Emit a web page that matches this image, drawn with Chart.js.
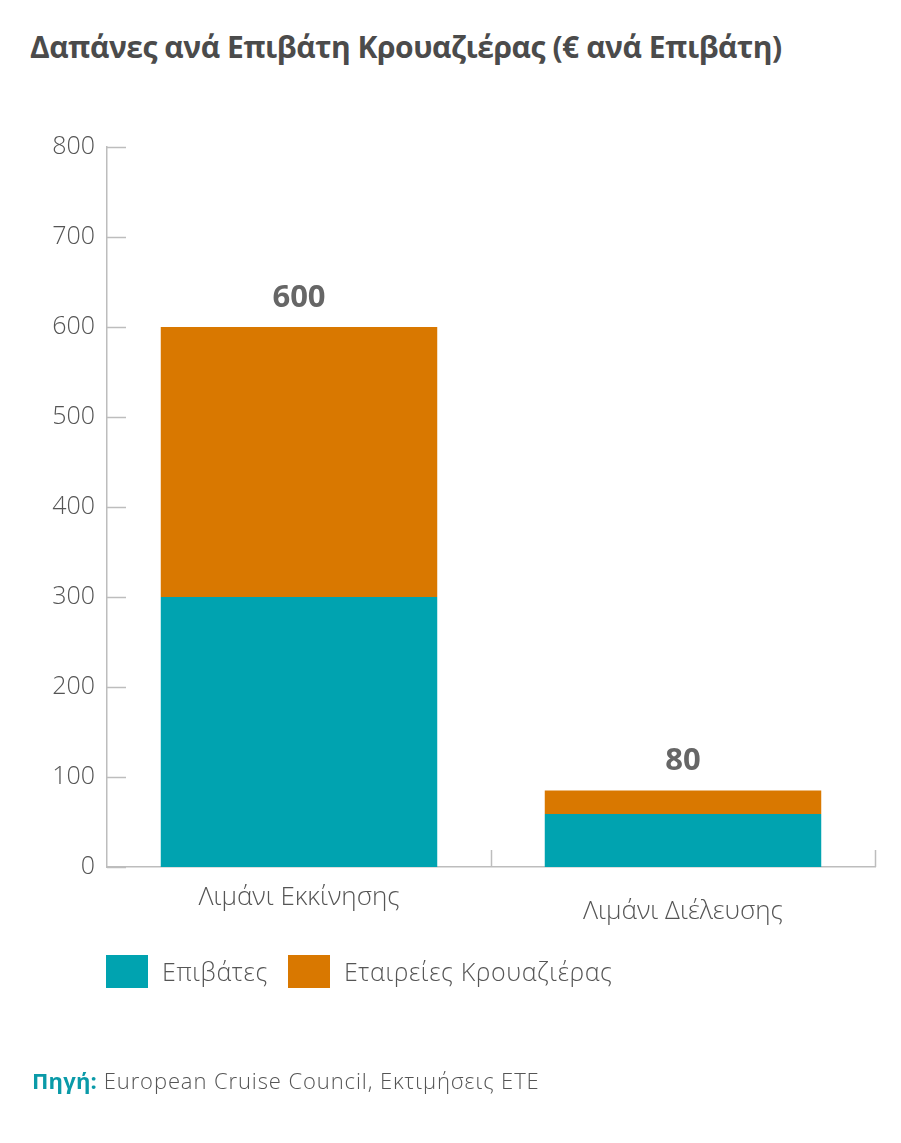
<!DOCTYPE html>
<html>
<head>
<meta charset="utf-8">
<script src="https://cdn.jsdelivr.net/npm/chart.js@4.4.0/dist/chart.umd.min.js"></script>
<style>
  html, body { margin:0; padding:0; background:#fff; }
  body { width:901px; height:1143px; position:relative; overflow:hidden; font-family:"Open Sans", "Noto Sans", sans-serif; }
  #title { position:absolute; left:30px; top:26px; font-size:30px; font-weight:700; color:#4b4b4b; white-space:nowrap; letter-spacing:-0.45px; }
  #wrap { position:absolute; left:0; top:0; width:901px; height:1143px; }
  #legend { position:absolute; left:106px; top:954px; display:flex; align-items:center; font-size:25px; color:#555; font-weight:300; letter-spacing:0.6px; }
  .sw { width:42px; height:33px; display:inline-block; margin-right:14px; }
  .item { display:flex; align-items:center; margin-right:20px; }
  #source { position:absolute; left:32px; top:1065px; font-size:22px; color:#555; font-weight:300; white-space:nowrap; letter-spacing:0.9px; }
  #source b { color:#0a9aa8; font-weight:700; letter-spacing:0.2px; }
</style>
</head>
<body>
<div id="title">Δαπάνες ανά Επιβάτη Κρουαζιέρας (€ ανά Επιβάτη)</div>
<div id="wrap"><canvas id="c" width="901" height="1143"></canvas></div>
<div id="legend"></div>
<div id="source"><b>Πηγή:</b> European Cruise Council, Εκτιμήσεις ΕΤΕ</div>
<script>
const categories = ['Λιμάνι Εκκίνησης', 'Λιμάνι Διέλευσης'];
const seriesNames = ['Επιβάτες', 'Εταιρείες Κρουαζιέρας'];
const passengers = [300, 59];
const cruiseCompanies = [300, 26];
const totalLabels = ['600', '80'];
const yTicks = [0, 100, 200, 300, 400, 500, 600, 700, 800];

const colors = ['#00a3b0', '#d97800'];
const labelDrop = [31, 45];
const axisColor = '#bdbdbd';
const textColor = '#555555';

// legend (HTML)
const lg = document.getElementById('legend');
seriesNames.forEach((n, i) => {
  const it = document.createElement('div'); it.className = 'item';
  const sw = document.createElement('span'); sw.className = 'sw'; sw.style.background = colors[i];
  const tx = document.createElement('span'); tx.textContent = n;
  it.appendChild(sw); it.appendChild(tx); lg.appendChild(it);
});

const decor = {
  id: 'decor',
  afterDraw(chart) {
    const ctx = chart.ctx, x = chart.scales.x, y = chart.scales.y;
    const a = chart.chartArea;
    ctx.save();
    ctx.strokeStyle = axisColor; ctx.lineWidth = 1.5;
    // inward y ticks
    yTicks.forEach(v => {
      const py = Math.round(y.getPixelForValue(v)) + 0.5;
      ctx.beginPath(); ctx.moveTo(a.left, py); ctx.lineTo(a.left + 19, py); ctx.stroke();
    });
    // upward x boundary ticks
    categories.forEach((c, i) => {
      const px = Math.round(x.getPixelForValue(i + 0.5)) + 0.5;
      ctx.beginPath(); ctx.moveTo(px, a.bottom); ctx.lineTo(px, a.bottom - 17); ctx.stroke();
    });
    // x labels
    ctx.fillStyle = textColor;
    ctx.font = '300 26px "Open Sans", "Noto Sans", sans-serif';
    ctx.textAlign = 'center'; ctx.textBaseline = 'middle';
    categories.forEach((c, i) => {
      ctx.fillText(c, x.getPixelForValue(i), a.bottom + labelDrop[i]);
    });
    // total labels
    const meta = chart.getDatasetMeta(chart.data.datasets.length - 1);
    ctx.fillStyle = '#666666';
    ctx.font = '700 31px "Open Sans", "Noto Sans", sans-serif';
    meta.data.forEach((el, i) => {
      ctx.fillText(totalLabels[i], el.x, el.y - 29);
    });
    ctx.restore();
  }
};

new Chart(document.getElementById('c'), {
  type: 'bar',
  data: {
    labels: categories,
    datasets: [
      { label: seriesNames[0], data: passengers, backgroundColor: colors[0], borderWidth: 0 },
      { label: seriesNames[1], data: cruiseCompanies, backgroundColor: colors[1], borderWidth: 0 }
    ]
  },
  options: {
    responsive: false,
    animation: false,
    layout: { padding: { left: 0, top: 147, right: 26, bottom: 276 } },
    plugins: { legend: { display: false }, tooltip: { enabled: false } },
    datasets: { bar: { categoryPercentage: 0.72, barPercentage: 1.0 } },
    scales: {
      x: {
        stacked: true,
        grid: { display: false, offset: true },
        border: { display: true, color: axisColor, width: 1.5 },
        ticks: { display: false },
        afterFit(s) { s.height = 0; }
      },
      y: {
        stacked: true,
        min: 0, max: 800,
        afterBuildTicks(s) { s.ticks = yTicks.map(v => ({ value: v })); },
        grid: { display: false, drawTicks: false },
        border: { display: true, color: axisColor, width: 1.5 },
        ticks: { padding: 12, color: textColor, font: { family: '"Open Sans", "Noto Sans", sans-serif', size: 25, weight: '300' } },
        afterFit(s) { s.width = 107; }
      }
    }
  },
  plugins: [decor]
});
</script>
</body>
</html>
